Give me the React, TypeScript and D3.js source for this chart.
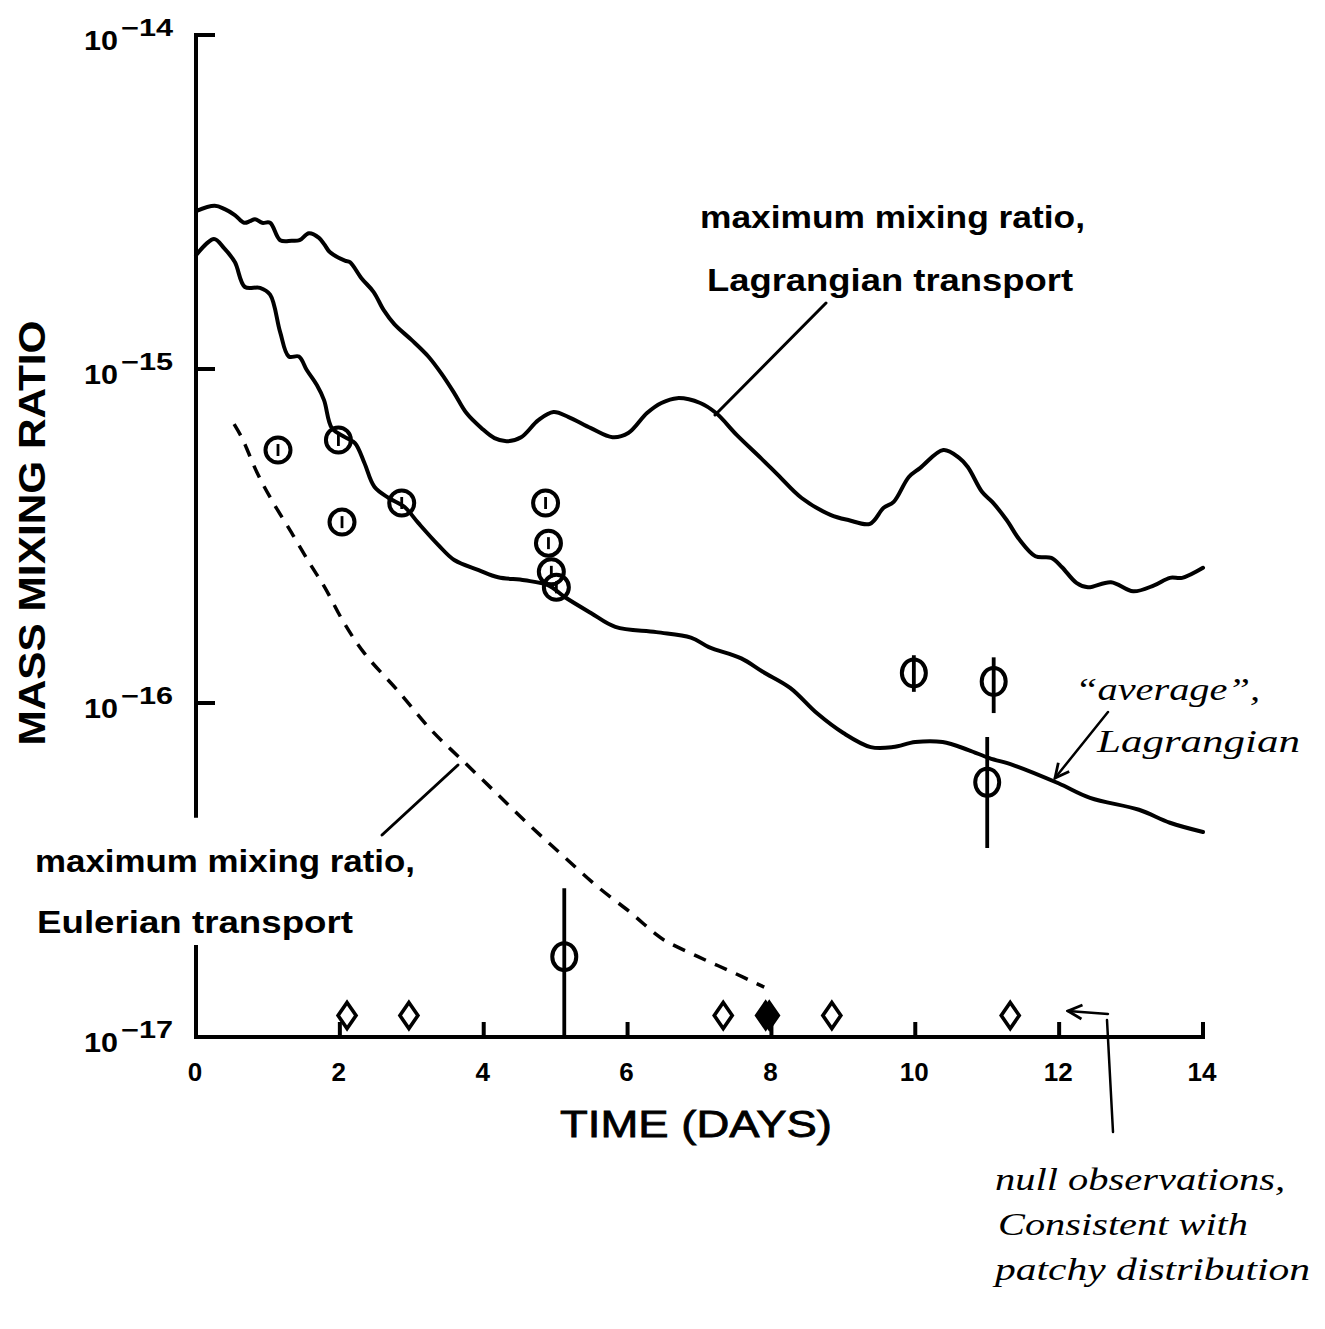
import React from "react";
import * as d3 from "d3";

const W = 1325;
const H = 1329;

// axis ticks
const xTicks = [0, 2, 4, 6, 8, 10, 12, 14];
const xTickMarks = [2, 4, 6, 8, 10, 12, 14];
const yTickExps = [-14, -15, -16, -17];
const yBreak: [number, number] = [4.6e-17, 1.86e-17];

// maximum mixing ratio, Lagrangian transport  [day, mixing ratio]
const maxLagrangian: [number, number][] = [
  [0, 2.97e-15], [0.26, 3.08e-15], [0.4, 3.01e-15], [0.54, 2.89e-15], [0.67, 2.74e-15],
  [0.75, 2.77e-15], [0.82, 2.81e-15], [0.92, 2.74e-15], [1.03, 2.74e-15], [1.17, 2.43e-15],
  [1.33, 2.42e-15], [1.44, 2.43e-15], [1.57, 2.55e-15], [1.71, 2.47e-15], [1.79, 2.35e-15],
  [1.86, 2.24e-15], [2.07, 2.11e-15], [2.14, 2.09e-15], [2.3, 1.87e-15], [2.47, 1.7e-15],
  [2.61, 1.5e-15], [2.76, 1.36e-15], [3.0, 1.22e-15], [3.23, 1.09e-15], [3.41, 9.7e-16],
  [3.59, 8.47e-16], [3.76, 7.38e-16], [3.97, 6.65e-16], [4.15, 6.21e-16], [4.32, 6.08e-16],
  [4.52, 6.25e-16], [4.76, 7.03e-16], [4.97, 7.43e-16], [5.18, 7.18e-16], [5.49, 6.65e-16],
  [5.79, 6.25e-16], [6.01, 6.43e-16], [6.27, 7.38e-16], [6.47, 7.91e-16], [6.69, 8.18e-16],
  [7.01, 7.91e-16], [7.23, 7.38e-16], [7.52, 6.34e-16], [7.85, 5.42e-16], [8.09, 4.82e-16],
  [8.42, 4.11e-16], [8.82, 3.66e-16], [9.07, 3.53e-16], [9.37, 3.44e-16], [9.56, 3.84e-16],
  [9.7, 4.0e-16], [9.91, 4.75e-16], [10.07, 5.06e-16], [10.39, 5.72e-16], [10.61, 5.42e-16],
  [10.73, 5.09e-16], [10.93, 4.28e-16], [11.07, 4.0e-16], [11.27, 3.53e-16], [11.45, 3.08e-16],
  [11.67, 2.75e-16], [11.89, 2.72e-16], [12.04, 2.55e-16], [12.24, 2.29e-16], [12.4, 2.22e-16],
  [12.72, 2.3e-16], [13.03, 2.16e-16], [13.32, 2.25e-16], [13.54, 2.37e-16], [13.71, 2.37e-16],
  [14.0, 2.54e-16],
];

// "average", Lagrangian
const avgLagrangian: [number, number][] = [
  [0, 2.19e-15], [0.25, 2.45e-15], [0.39, 2.3e-15], [0.54, 2.09e-15], [0.68, 1.76e-15],
  [0.89, 1.75e-15], [1.03, 1.67e-15], [1.17, 1.29e-15], [1.29, 1.09e-15], [1.43, 1.09e-15],
  [1.54, 9.93e-16], [1.68, 8.95e-16], [1.78, 8.07e-16], [1.89, 6.65e-16], [2.07, 6.25e-16],
  [2.21, 6.0e-16], [2.34, 5.24e-16], [2.48, 4.44e-16], [2.68, 4.11e-16], [2.9, 3.86e-16],
  [3.09, 3.46e-16], [3.37, 2.97e-16], [3.59, 2.68e-16], [3.93, 2.5e-16], [4.2, 2.38e-16],
  [4.57, 2.33e-16], [4.9, 2.25e-16], [5.12, 2.08e-16], [5.49, 1.86e-16], [5.83, 1.69e-16],
  [6.4, 1.63e-16], [6.88, 1.57e-16], [7.13, 1.47e-16], [7.58, 1.36e-16], [7.88, 1.24e-16],
  [8.26, 1.11e-16], [8.63, 9.33e-17], [9.0, 8.13e-17], [9.38, 7.38e-17], [9.69, 7.38e-17],
  [10.0, 7.64e-17], [10.38, 7.64e-17], [10.74, 7.23e-17], [11.03, 6.84e-17], [11.36, 6.52e-17],
  [11.99, 5.75e-17], [12.43, 5.2e-17], [13.11, 4.79e-17], [13.54, 4.38e-17], [14.0, 4.11e-17],
];

// maximum mixing ratio, Eulerian transport
const maxEulerian: [number, number][] = [
  [0.53, 6.84e-16], [0.64, 6.21e-16], [0.85, 4.89e-16], [1.05, 4.06e-16], [1.33, 3.23e-16],
  [1.58, 2.62e-16], [1.79, 2.22e-16], [2.05, 1.75e-16], [2.34, 1.41e-16], [2.82, 1.08e-16],
  [3.27, 8.3e-17], [3.73, 6.65e-17], [4.2, 5.31e-17], [4.66, 4.26e-17], [5.12, 3.46e-17],
  [5.59, 2.81e-17], [6.05, 2.35e-17], [6.37, 2.05e-17], [6.51, 1.95e-17], [6.98, 1.74e-17],
  [7.44, 1.57e-17], [7.9, 1.41e-17],
];

// observations (circles) [day, value]
const observations: [number, number][] = [
  [1.14, 5.72e-16], [1.98, 6.13e-16], [2.03, 3.48e-16], [2.86, 3.97e-16],
  [4.86, 3.97e-16], [4.9, 3.01e-16], [4.94, 2.47e-16], [5.01, 2.22e-16],
];

// observations with error bars [day, value, low, high]
const observationsWithBars: [number, number, number, number][] = [
  [5.12, 1.74e-17, 1.0e-17, 2.79e-17],
  [9.98, 1.23e-16, 1.08e-16, 1.39e-16],
  [11.09, 1.16e-16, 9.33e-17, 1.37e-16],
  [11.0, 5.79e-17, 3.68e-17, 7.91e-17],
];

// null observations (diamonds)
const nullObsDays = [2.1, 2.96, 7.33, 7.97, 8.84, 11.32];
const nullObsFilledDays = [7.92];
const nullObsLevel = 1.16e-17;

const SANS = "'Liberation Sans', Arial, 'DejaVu Sans', sans-serif";
const HAND = "'Liberation Serif', 'DejaVu Serif', serif";

export default function App() {
  const x = d3.scaleLinear().domain([0, 14]).range([196, 1203]);
  const y = d3.scaleLog().domain([1e-17, 1e-14]).range([1037, 35]);

  const line = d3
    .line<[number, number]>()
    .x((d) => x(d[0]))
    .y((d) => y(d[1]))
    .curve(d3.curveCatmullRom.alpha(0.5));

  const diamond = "M0,-13 L9,0 L0,13 L-9,0 Z";
  const x0 = x(0);
  const yBase = y(1e-17);

  return (
    <div style={{ position: "absolute", left: 0, top: 0 }}>
      <svg width={W} height={H} viewBox={`0 0 ${W} ${H}`} style={{ display: "block", background: "#fff" }}>
        <defs>
          <marker id="ah" viewBox="0 0 10 10" refX="9" refY="5" markerWidth="7" markerHeight="7" orient="auto-start-reverse">
            <path d="M1,1 L9,5 L1,9" fill="none" stroke="#000" strokeWidth="1.6" />
          </marker>
        </defs>
        <rect x={0} y={0} width={W} height={H} fill="#fff" />

        {/* Y axis (broken) */}
        <g stroke="#000" strokeWidth={4} strokeLinecap="square" fill="none">
          <line x1={x0} x2={x0} y1={y(1e-14)} y2={y(yBreak[0])} />
          <line x1={x0} x2={x0} y1={y(yBreak[1])} y2={yBase} />
          {yTickExps.slice(0, 3).map((e) => (
            <line key={e} x1={x0} x2={x0 + 17} y1={y(Math.pow(10, e))} y2={y(Math.pow(10, e))} />
          ))}
          {/* X axis */}
          <line x1={x0} x2={x(14)} y1={yBase} y2={yBase} />
          {xTickMarks.map((t) => (
            <line key={t} x1={x(t)} x2={x(t)} y1={yBase} y2={yBase - 13} />
          ))}
        </g>

        {/* Y tick labels */}
        {yTickExps.map((e) => {
          const yy = y(Math.pow(10, e));
          return (
            <g key={e} fontFamily={SANS} fontWeight="bold" fill="#000">
              <text x={84} y={yy + 15} fontSize={28} textLength={34} lengthAdjust="spacingAndGlyphs">10</text>
              <text x={121} y={yy + 1} fontSize={23} textLength={52} lengthAdjust="spacingAndGlyphs">{"\u2212" + String(-e)}</text>
            </g>
          );
        })}

        {/* X tick labels */}
        {xTicks.map((t) => (
          <text key={t} x={x(t) - 1} y={1081} fontFamily={SANS} fontWeight="bold" fontSize={26} textAnchor="middle" fill="#000">
            {t}
          </text>
        ))}

        {/* axis titles */}
        <text x={560} y={1137} fontFamily={SANS} fontSize={37} textLength={272} lengthAdjust="spacingAndGlyphs" fill="#000" stroke="#000" strokeWidth={0.8}>
          TIME (DAYS)
        </text>
        <text
          transform="translate(45,533) rotate(-90)"
          fontFamily={SANS}
          fontWeight="bold"
          fontSize={37}
          textAnchor="middle"
          textLength={425}
          lengthAdjust="spacingAndGlyphs"
          fill="#000"
        >
          MASS MIXING RATIO
        </text>

        {/* curves */}
        <g fill="none" stroke="#000" strokeLinejoin="round" strokeLinecap="round">
          <path d={line(maxLagrangian) || ""} strokeWidth={4} />
          <path d={line(avgLagrangian) || ""} strokeWidth={4} />
          <path d={line(maxEulerian) || ""} strokeWidth={3.5} strokeDasharray="13 10" strokeLinecap="butt" />
        </g>

        {/* observations */}
        <g fill="none" stroke="#000">
          {observations.map(([t, v], i) => (
            <g key={i} transform={`translate(${x(t)},${y(v)})`}>
              <circle r={12.5} strokeWidth={4} />
              <line x1={0} x2={0} y1={-6} y2={6} strokeWidth={2.8} />
            </g>
          ))}
          {observationsWithBars.map(([t, v, lo, hi], i) => (
            <g key={i}>
              <line x1={x(t)} x2={x(t)} y1={y(lo)} y2={y(hi)} strokeWidth={3.8} />
              <ellipse cx={x(t)} cy={y(v)} rx={12} ry={13.5} strokeWidth={4} fill="none" />
            </g>
          ))}
          {nullObsDays.map((t, i) => (
            <path key={i} d={diamond} transform={`translate(${x(t)},${y(nullObsLevel)})`} strokeWidth={3.6} fill="#fff" />
          ))}
          {nullObsFilledDays.map((t, i) => (
            <path key={i} d={diamond} transform={`translate(${x(t)},${y(nullObsLevel)})`} strokeWidth={3.6} fill="#000" />
          ))}
        </g>

        {/* labels and leader lines */}
        <g fontFamily={SANS} fontWeight="bold" fontSize={32} fill="#000">
          <text x={700} y={228} textLength={385} lengthAdjust="spacingAndGlyphs">maximum mixing ratio,</text>
          <text x={707} y={291} textLength={366} lengthAdjust="spacingAndGlyphs">Lagrangian transport</text>
          <text x={35} y={872} textLength={380} lengthAdjust="spacingAndGlyphs">maximum mixing ratio,</text>
          <text x={37} y={933} textLength={316} lengthAdjust="spacingAndGlyphs">Eulerian transport</text>
        </g>
        <g stroke="#000" strokeWidth={3} strokeLinecap="round">
          <line x1={715} y1={415} x2={826} y2={303} />
          <line x1={458} y1={765} x2={382} y2={835} />
        </g>

        {/* handwritten annotations */}
        <g fontFamily={HAND} fontStyle="italic" fontSize={32} fill="#000">
          <text x={1075} y={700} textLength={185} lengthAdjust="spacingAndGlyphs">{"\u201Caverage\u201D,"}</text>
          <text x={1097} y={752} textLength={203} lengthAdjust="spacingAndGlyphs">Lagrangian</text>
          <text x={995} y={1190} textLength={290} lengthAdjust="spacingAndGlyphs">null observations,</text>
          <text x={998} y={1235} textLength={250} lengthAdjust="spacingAndGlyphs">Consistent with</text>
          <text x={995} y={1280} textLength={315} lengthAdjust="spacingAndGlyphs">patchy distribution</text>
        </g>
        <g stroke="#000" strokeWidth={2.5} fill="none" strokeLinecap="round">
          <line x1={1108} y1={712} x2={1055} y2={778} markerEnd="url(#ah)" />
          <line x1={1108} y1={1014} x2={1068} y2={1011} markerEnd="url(#ah)" />
          <line x1={1107} y1={1020} x2={1113} y2={1132} />
        </g>
      </svg>
    </div>
  );
}
